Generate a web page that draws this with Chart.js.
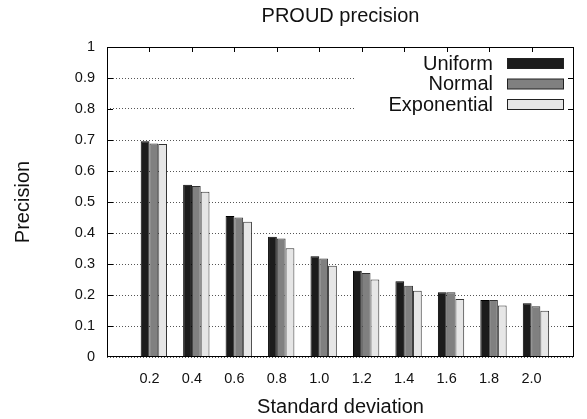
<!DOCTYPE html>
<html>
<head>
<meta charset="utf-8">
<title>PROUD precision</title>
<script src="https://cdn.jsdelivr.net/npm/chart.js@4.4.1/dist/chart.umd.min.js"></script>
<style>
  body { margin: 0; background: #fff; }
  #wrap { width: 587px; height: 419px; }
</style>
</head>
<body>
<div id="wrap"><canvas id="chart" width="587" height="419"></canvas></div>
<script>
// Standard deviation values (x categories)
const categories = ["0.2", "0.4", "0.6", "0.8", "1.0", "1.2", "1.4", "1.6", "1.8", "2.0"];
// Precision per distribution
const uniform = [0.696, 0.556, 0.455, 0.388, 0.325, 0.278, 0.244, 0.209, 0.184, 0.173];
const normal = [0.689, 0.552, 0.450, 0.382, 0.318, 0.271, 0.230, 0.209, 0.184, 0.164];
const exponential = [0.687, 0.533, 0.436, 0.351, 0.294, 0.250, 0.214, 0.187, 0.166, 0.149];
const seriesNames = ["Uniform", "Normal", "Exponential"];
const yTicks = [0, 0.1, 0.2, 0.3, 0.4, 0.5, 0.6, 0.7, 0.8, 0.9, 1];

const FONT = "'Liberation Sans', Arial, Helvetica, sans-serif";

// empty slot at each end so the axis runs from 0 to 2.2 like the original
const labels = [""].concat(categories, [""]);
const pad = arr => [null].concat(arr, [null]);

// gnuplot-like frame, inward ticks and legend
const framePlugin = {
  id: "frame",
  beforeDatasetsDraw(chart) {
    const ctx = chart.ctx;
    // white box behind the legend hides the grid lines there
    ctx.save();
    ctx.fillStyle = "#fff";
    ctx.fillRect(356, 49, 220, 66);
    ctx.restore();
    // bars sit a little right of their tick, like gnuplot histograms
    ctx.save();
    ctx.translate(4.4, 0);
  },
  afterDatasetsDraw(chart) {
    chart.ctx.restore();
  },
  afterDraw(chart) {
    const ctx = chart.ctx;
    const a = chart.chartArea;
    const x = chart.scales.x, y = chart.scales.y;
    ctx.save();
    ctx.strokeStyle = "#000";
    ctx.lineWidth = 1;
    ctx.strokeRect(a.left + 0.5, a.top + 0.5, a.right - a.left - 1, a.bottom - a.top - 1);
    ctx.beginPath();
    yTicks.slice(1, -1).forEach(v => {
      const py = Math.round(y.getPixelForValue(v)) + 0.5;
      ctx.moveTo(a.left, py); ctx.lineTo(a.left + 6, py);
      ctx.moveTo(a.right, py); ctx.lineTo(a.right - 6, py);
    });
    categories.forEach((c, i) => {
      const px = Math.round(x.getPixelForValue(i + 1)) + 0.5;
      ctx.moveTo(px, a.top); ctx.lineTo(px, a.top + 5);
    });
    ctx.stroke();

    // legend: text right aligned, swatch on the right
    ctx.font = "20px " + FONT;
    ctx.textAlign = "right";
    ctx.textBaseline = "alphabetic";
    chart.data.datasets.forEach((ds, i) => {
      const top = 58.5 + i * 20.5;
      ctx.fillStyle = "#111";
      ctx.fillText(ds.label, 493, top + 11);
      ctx.fillStyle = ds.backgroundColor;
      ctx.fillRect(507.5, top, 56, 10);
      ctx.strokeStyle = "#222";
      ctx.strokeRect(507.5, top, 56, 10);
    });
    ctx.restore();
  }
};

const ctx = document.getElementById("chart").getContext("2d");
const chart = new Chart(ctx, {
  type: "bar",
  data: {
    labels: labels,
    datasets: [
      { label: seriesNames[0], data: pad(uniform), backgroundColor: "#1c1c1c", borderColor: "#000", borderWidth: 1 },
      { label: seriesNames[1], data: pad(normal), backgroundColor: "#808080", borderColor: "#333", borderWidth: 1 },
      { label: seriesNames[2], data: pad(exponential), backgroundColor: "#e6e6e6", borderColor: "#333", borderWidth: 1 }
    ]
  },
  options: {
    responsive: false,
    animation: false,
    events: [],
    layout: { padding: { top: 0, right: 1, bottom: 0, left: 0 } },
    datasets: {
      bar: { categoryPercentage: 0.62, barPercentage: 1.0, borderSkipped: "bottom" }
    },
    plugins: {
      legend: { display: false },
      tooltip: { enabled: false },
      title: {
        display: true,
        text: "PROUD precision",
        fullSize: false,
        color: "#111",
        font: { family: FONT, size: 20, weight: "normal", lineHeight: 1.2 },
        padding: { top: 4, bottom: 19 }
      }
    },
    scales: {
      x: {
        offset: false,
        grid: { display: false, drawTicks: false },
        border: { display: false },
        ticks: { color: "#111", padding: 13, autoSkip: false, maxRotation: 0, font: { family: FONT, size: 14.5 } },
        title: {
          display: true,
          text: "Standard deviation",
          color: "#111",
          font: { family: FONT, size: 20, lineHeight: 1.2 },
          padding: { top: 0, bottom: 0 }
        },
        afterFit: s => { s.height = 62; }
      },
      y: {
        min: 0,
        max: 1,
        afterBuildTicks: s => { s.ticks = yTicks.map(v => ({ value: v })); },
        grid: { color: "#555", lineWidth: 1, drawTicks: false },
        border: { display: false, dash: [1, 2] },
        ticks: {
          color: "#111",
          padding: 12,
          font: { family: FONT, size: 14.5 },
          callback: v => String(Math.round(v * 10) / 10)
        },
        title: {
          display: true,
          text: "Precision",
          color: "#111",
          font: { family: FONT, size: 20, lineHeight: 1.2 },
          padding: { top: 11, bottom: 0 }
        },
        afterFit: s => { s.width = 107; }
      }
    }
  },
  plugins: [framePlugin]
});
</script>
</body>
</html>
